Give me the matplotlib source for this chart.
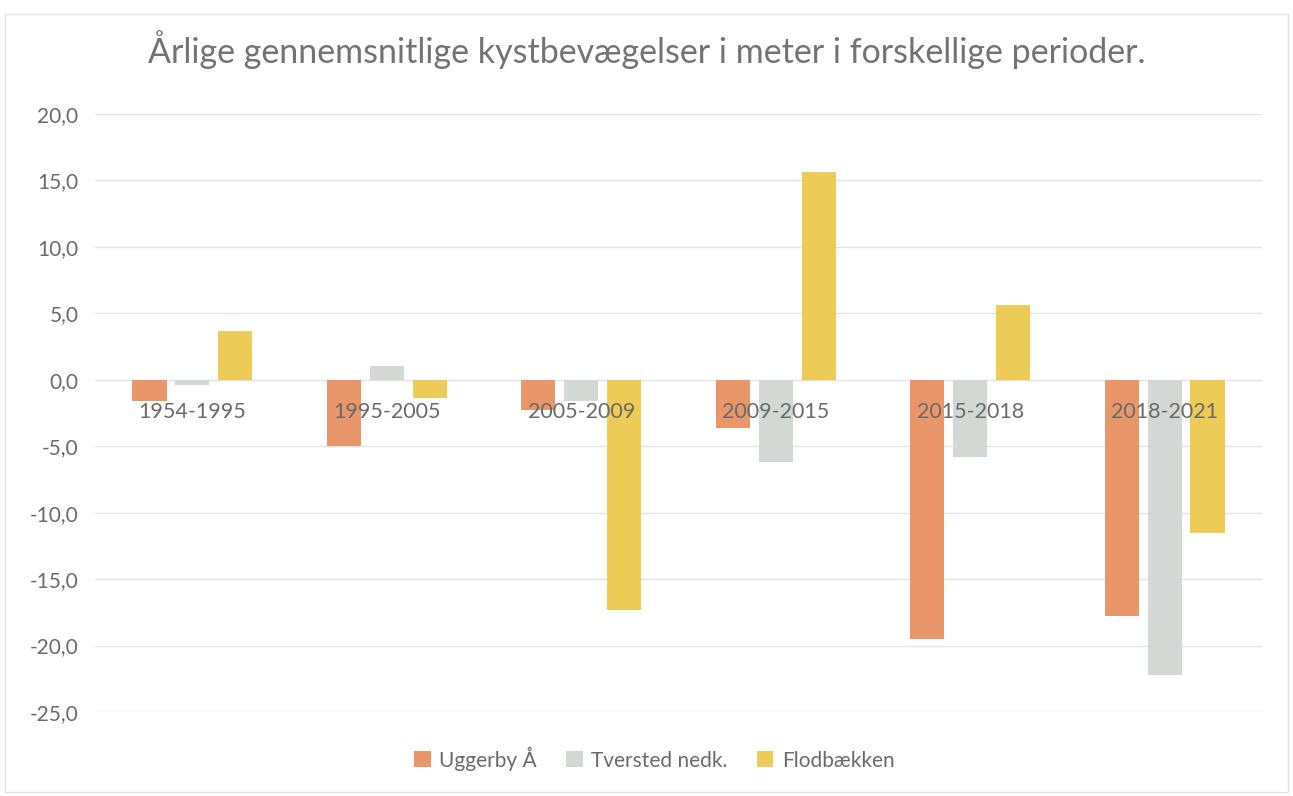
import matplotlib
matplotlib.use("Agg")
import matplotlib.pyplot as plt
import numpy as np
from matplotlib.patches import Rectangle

# ---- data ----
periods = ["1954-1995", "1995-2005", "2005-2009", "2009-2015", "2015-2018", "2018-2021"]
uggerby = [-1.6, -5.0, -2.3, -3.6, -19.5, -17.8]
tversted = [-0.4, 1.0, -1.6, -6.2, -5.8, -22.2]
flodbaekken = [3.7, -1.4, -17.3, 15.6, 5.6, -11.5]
series_names = ["Uggerby Å", "Tversted nedk.", "Flodbækken"]
yticks = [20, 15, 10, 5, 0, -5, -10, -15, -20, -25]
title = "Årlige gennemsnitlige kystbevægelser i meter i forskellige perioder."

colors = ["#E8966A", "#D3D8D5", "#EDCB57"]
text_color = "#6a6a6a"

plt.rcParams['font.family'] = ['Lato', 'DejaVu Sans']

fig = plt.figure(figsize=(12.93, 7.96), dpi=100)
fig.patch.set_facecolor("white")
ax = fig.add_axes([0.0735, 0.1055, 0.9025, 0.7515])

x = np.arange(len(periods))
width = 0.175
step = 0.22
for k, (vals, name, c) in enumerate(zip([uggerby, tversted, flodbaekken], series_names, colors)):
    ax.bar(x + (k - 1) * step, vals, width=width, color=c, label=name, zorder=3)

ax.set_xlim(-0.5, len(periods) - 0.5)
ax.set_ylim(-25, 20)
ax.set_yticks(yticks)
ax.set_yticklabels([f"{v:.1f}".replace(".", ",") for v in yticks], fontsize=15, color=text_color)
ax.tick_params(axis='y', length=0, pad=12)
ax.set_xticks([])
ax.grid(axis='y', color="#e4e4e4", linewidth=1.0, zorder=0)
ax.set_axisbelow(True)
for s in ax.spines.values():
    s.set_visible(False)

for i, p in enumerate(periods):
    ax.annotate(p, xy=(i, 0), xytext=(0, -16), textcoords='offset points',
                ha='center', va='top', fontsize=15.5, color=text_color, zorder=5)

fig.text(0.5, 0.938, title, ha='center', va='center', fontsize=24.5, color="#737373")

leg = fig.legend(loc='center', bbox_to_anchor=(0.506, 0.047), ncol=3, frameon=False,
                 fontsize=15, handlelength=0.8, handleheight=0.8, columnspacing=1.4,
                 handletextpad=0.4, labelcolor=text_color)

fig.patches.append(Rectangle((0.004, 0.005), 0.992, 0.978, transform=fig.transFigure,
                             fill=False, edgecolor="#e2e2e2", linewidth=1.0))

fig.savefig("out.png", dpi=100, facecolor="white")
